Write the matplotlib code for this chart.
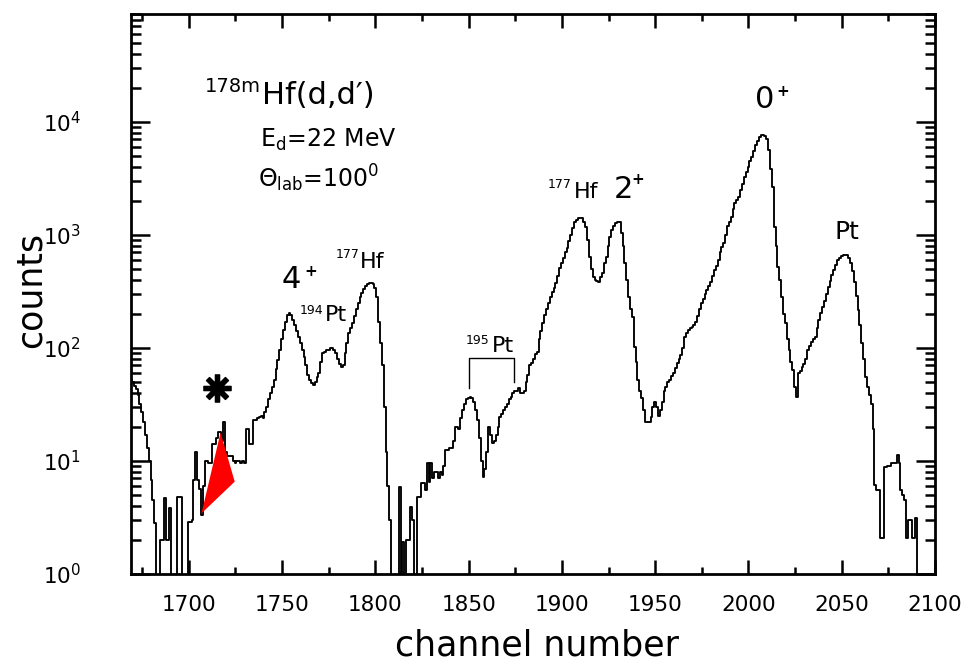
import numpy as np
import matplotlib
matplotlib.use("Agg")
import matplotlib.pyplot as plt
from matplotlib.patches import Polygon
from matplotlib.ticker import MultipleLocator, LogLocator, FuncFormatter, NullFormatter

plt.rcParams['font.family'] = ['DejaVu Sans']
plt.rcParams['mathtext.fontset'] = 'dejavusans'

# counts per channel, starting at channel 1669
first_channel = 1669
counts = [
    52, 50, 46, 43, 38, 32, 27, 22, 17, 13,                 # 1669
    10, 6.8, 4.5, 2.8, 0, 0, 2, 2, 4.7, 2,                  # 1679
    2, 3.8, 0, 0, 0, 4.8, 4.8, 4.8, 0, 0,                   # 1689
    0, 2.9, 2.9, 3, 6.8, 12, 6.8, 5.6, 3.3, 6,              # 1699
    10, 10, 9.6, 9.6, 14, 14, 16, 18, 18, 15,               # 1709
    22, 12, 11, 11, 11, 10, 9.5, 10, 10, 9.5,               # 1719
    10, 9.5, 19, 19, 14, 14, 23, 23, 24, 24.5,              # 1729
    25, 24, 27, 30, 35, 40, 45, 52, 65, 78,                 # 1739
    96, 120, 145, 170, 195, 204, 195, 178, 160, 140,        # 1749
    126, 110, 95, 83, 70, 58, 52, 49, 47, 50,               # 1759
    55, 60, 75, 90, 92, 95, 95, 100, 100, 95,               # 1769
    90, 80, 72, 68, 70, 90, 110, 135, 150, 167,             # 1779
    190, 220, 250, 280, 307, 330, 350, 370, 378, 375,       # 1789
    370, 340, 280, 170, 110, 70, 30, 12, 6, 3,              # 1799
    0, 0, 0, 0, 5.9, 0, 1.9, 0, 2, 2,                       # 1809
    3.9, 3, 0, 0, 4.8, 4.8, 6.4, 6.4, 5.5, 9.6,             # 1819
    6.5, 9.6, 7, 8, 8, 7, 8, 7.5, 9, 12.5,                  # 1829
    12.5, 13, 13, 15, 20, 20, 19, 24, 28, 32,               # 1839
    35, 36, 37, 36, 33, 28, 23, 16, 10, 7.2,                # 1849
    8.5, 12, 20, 17, 14.5, 15, 17, 20, 24.5, 26,            # 1859
    28, 30, 32, 35, 37, 40, 42, 42, 44, 40,                 # 1869
    40, 42, 50, 58, 70, 74, 80, 88, 92, 120,                # 1879
    140, 165, 195, 220, 250, 282, 310, 340, 373, 430,       # 1889
    510, 562, 620, 700, 766, 880, 1000, 1150, 1300, 1350,   # 1899
    1400, 1410, 1410, 1300, 1175, 900, 640, 500, 425, 400,  # 1909
    390, 384, 420, 460, 560, 640, 800, 960, 1100, 1200,     # 1919
    1270, 1310, 1300, 1050, 800, 562, 400, 282, 220, 188,   # 1929
    102, 75, 52, 42, 36, 28, 22, 22, 22, 24.5,              # 1939
    30, 33, 30, 25, 28, 33, 42, 45, 50, 52,                 # 1949
    56, 60, 66, 74, 80, 87, 100, 126, 135, 145,             # 1959
    150, 154, 160, 170, 190, 220, 250, 270, 300, 325,       # 1969
    350, 380, 430, 490, 530, 600, 700, 780, 850, 1000,      # 1979
    1200, 1300, 1440, 1700, 1910, 2050, 2170, 2500, 2800, 3240,  # 1989
    3600, 4000, 4500, 4900, 5500, 6300, 6800, 7300, 7650, 7650,  # 1999
    7500, 7000, 5650, 3800, 2670, 1180, 800, 525, 400, 284,      # 2009
    200, 166, 120, 96, 75, 64, 45, 37, 60, 62,              # 2019
    68, 72, 80, 96, 105, 112, 120, 126, 150, 175,           # 2029
    204, 230, 260, 300, 347, 390, 440, 490, 540, 600,       # 2039
    630, 650, 666, 670, 666, 620, 560, 480, 380, 290,       # 2049
    218, 160, 110, 80, 55, 45, 38, 32, 19, 6.1,             # 2059
    5.5, 5.5, 2.1, 2.1, 8.9, 8.9, 9, 9, 9.6, 9.6,           # 2069
    9.6, 11.3, 9.6, 5.5, 5, 4.5, 2.1, 3, 3, 2.1,            # 2079
    2.1, 3.1, 0, 0, 0, 0, 0, 0, 0, 0,                       # 2089
    0, 0,                                                   # 2099
]
counts = np.array(counts, dtype=float)
channels = np.arange(first_channel, first_channel + len(counts))

xticks_major = [1700, 1750, 1800, 1850, 1900, 1950, 2000, 2050, 2100]

red_x = [1706.8, 1717.0, 1724.6]
red_y = [3.44, 17.8, 6.56]

bracket_x = [1850, 1850, 1874.5, 1874.5]
bracket_y = [44, 81, 81, 50]

W, H = 973, 665
fig = plt.figure(figsize=(W / 100, H / 100), dpi=100)
ax = fig.add_axes([131 / W, 1 - 574 / H, (935 - 131) / W, (574 - 14) / H])

ax.set_yscale('log', nonpositive='clip')
ax.step(channels, counts, where='mid', color='black', lw=1.35)
ax.add_patch(Polygon(list(zip(red_x, red_y)), closed=True, facecolor='#ff0000',
                     edgecolor='none', zorder=3))
ax.plot(bracket_x, bracket_y, color='black', lw=1.0)
ax.plot([1715], [44], marker=(8, 2, 0), markersize=20, mew=3.8, color='black',
        clip_on=False)

ax.set_xlim(1669, 2100)
ax.set_ylim(1, 9e4)

ax.xaxis.set_major_locator(MultipleLocator(50))
ax.xaxis.set_minor_locator(MultipleLocator(25))
ax.yaxis.set_major_locator(LogLocator(base=10, numticks=10))
ax.yaxis.set_minor_locator(LogLocator(base=10, subs=np.arange(2, 10), numticks=20))
ax.yaxis.set_major_formatter(FuncFormatter(lambda v, p: r'$\mathregular{10^{%d}}$' % round(np.log10(v))))
ax.yaxis.set_minor_formatter(NullFormatter())
ax.set_xticks(xticks_major)
ax.set_xticklabels([str(t) for t in xticks_major])

ax.tick_params(which='both', direction='in', top=True, right=True, width=1.8,
               labelsize=15.5)
ax.tick_params(axis='y', which='major', length=14, pad=36)
ax.tick_params(axis='y', which='minor', length=7)
ax.tick_params(axis='x', which='major', length=10, pad=15)
ax.tick_params(axis='x', which='minor', length=5)
for s in ax.spines.values():
    s.set_linewidth(2.0)


def ftext(px, py, s, size, **kw):
    fig.text(px / W, 1 - py / H, s, fontsize=size, **kw)


ftext(31, 290, 'counts', 25, rotation=90, ha='center', va='center')
ftext(537, 646, 'channel number', 25, ha='center', va='center')

# title block
ftext(261, 86, '178m', 14, ha='right', va='center')
ftext(262, 96, 'Hf(d,d′)', 22, ha='left', va='center')
ftext(260, 140, r'E$_{\mathregular{d}}$=22 MeV', 17, ha='left', va='center')
ftext(258, 178, r'$\mathregular{\Theta_{lab}}$=100$^{\mathregular{0}}$', 17, ha='left', va='center')

# peak labels
ftext(291, 280, '4', 22, ha='center', va='center')
ftext(311, 271, '+', 11, ha='center', va='center', fontweight='bold')
ftext(348, 254, '177', 9, ha='center', va='center')
ftext(372, 262, 'Hf', 16, ha='center', va='center')
ftext(311, 310, '194', 9, ha='center', va='center')
ftext(336, 315, 'Pt', 16, ha='center', va='center')
ftext(478, 340, '195', 9, ha='center', va='center')
ftext(503, 346, 'Pt', 16, ha='center', va='center')
ftext(560, 185, '177', 9, ha='center', va='center')
ftext(586, 192, 'Hf', 16, ha='center', va='center')
ftext(623, 189, '2', 22, ha='center', va='center')
ftext(638, 179, '+', 11, ha='center', va='center', fontweight='bold')
ftext(765, 100, '0', 22, ha='center', va='center')
ftext(783, 91, '+', 11, ha='center', va='center', fontweight='bold')
ftext(847, 232, 'Pt', 18, ha='center', va='center')

fig.savefig('out.png', dpi=100)
